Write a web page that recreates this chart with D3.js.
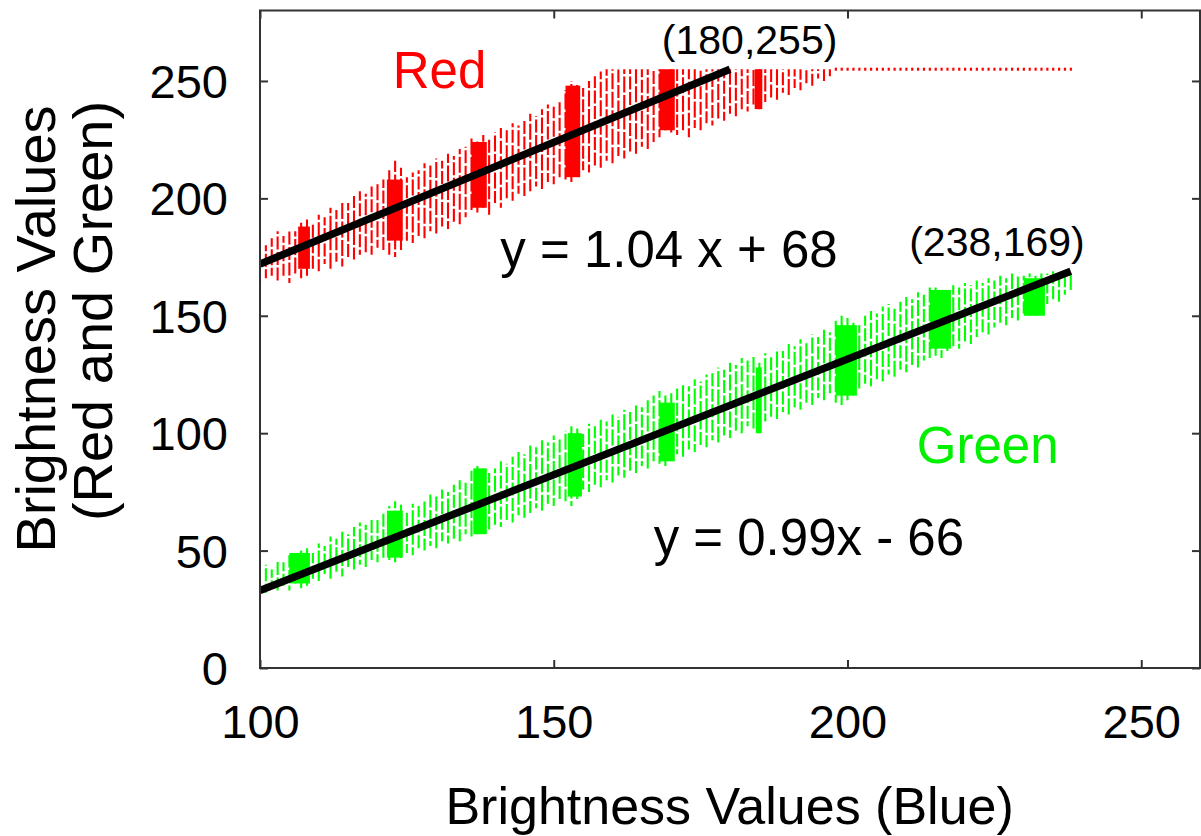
<!DOCTYPE html>
<html><head><meta charset="utf-8">
<script src="https://cdn.jsdelivr.net/npm/d3@7"></script>
<style>
html,body{margin:0;padding:0;background:#fff;}
svg{display:block;}
text{font-family:"Liberation Sans",Arial,Helvetica,sans-serif;}
</style></head>
<body>
<svg id="chart" width="1201" height="836"></svg>
<script>
// ---------------- DATA ----------------
const xTicks = [100, 150, 200, 250];
const yTicks = [0, 50, 100, 150, 200, 250];
const xTitle = "Brightness Values (Blue)";
const yTitleLines = ["Brightness Values", "(Red and Green)"];

// Red band: one column per integer blue value, from redStart
const redStart = 100;
const redLo = [163,166,167,165,167,164,168,166,167,170,169,172,170,173,171,175,174,176,177,176,
  179,178,176,175,178,182,181,184,183,186,185,188,187,190,189,192,195,194,196,193,
  198,196,200,199,202,201,203,205,204,207,206,209,208,207,210,212,211,214,213,216,
  215,218,217,220,219,222,221,224,226,229,228,227,229,226,230,229,232,231,234,233,
  236,235,238,237,240,238,241,243,242,245,244,247,246,249,248,251,250,252];
const redHi = [183,180,183,186,184,187,186,190,191,189,193,192,196,195,199,198,201,203,202,205,
  206,208,212,216,213,209,211,212,215,214,217,216,219,218,221,222,226,225,227,225,
  228,230,229,232,231,234,236,235,238,240,239,242,246,250,249,247,250,252,254,255,
  255,255,255,255,255,255,255,255,255,255,255,255,255,255,255,255,255,255,255,255,
  255,255,255,255,255,255,255,255,255,255,255,255,255,255,255,255,255,255];
// Saturated red dots at 255 beyond the band
const redCapX = [198,199,200,201,202,203,204,205,206,207,208,209,210,211,212,213,214,215,216,217,
  218,219,220,221,222,223,224,225,226,227,228,229,230,231,232,233,234,235,236,237,238];
const redCapY = 255;

// Green band: one column per integer blue value, from greenStart
const greenStart = 100;
const greenLo = [33,32,34,33,35,33,36,34,35,38,37,40,38,41,39,43,42,44,43,46,
  45,47,46,45,47,49,48,51,50,52,51,54,53,55,54,57,56,57,58,59,
  61,60,63,62,65,64,66,68,67,70,69,72,71,69,72,76,75,78,77,80,
  79,82,81,84,83,86,85,88,87,86,89,91,90,93,92,95,94,97,96,99,
  98,101,100,103,102,100,105,107,106,109,108,111,110,113,112,115,114,117,113,112,
  114,116,119,121,120,123,122,125,124,127,126,129,128,131,132,133,132,135,137,136,
  139,138,141,143,142,145,147,146,149,148,151,150,150,153,155,157,156,159,161];
const greenHi = [41,44,42,46,45,48,47,50,51,49,53,52,56,55,58,57,60,62,61,64,
  63,66,69,71,70,67,70,69,72,74,73,76,75,78,80,79,84,86,85,83,
  85,88,87,90,92,91,95,94,97,96,99,98,101,103,102,100,104,103,106,105,
  108,107,110,109,112,111,114,116,118,116,117,119,121,120,123,122,125,126,128,127,
  130,129,132,131,133,130,134,133,136,135,138,137,140,139,142,141,144,143,148,150,
  149,147,146,150,152,151,154,155,153,156,158,157,160,159,162,162,161,160,163,162,
  164,163,165,164,166,165,167,166,168,167,167,168,167,168,168,169,168,169,168];

// Dense clusters (blue from/to, value lo/hi)
const redClusterFrom = [106.5, 121.6, 136.0, 152.0, 168.0, 184.2];
const redClusterTo   = [108.5, 124.3, 138.6, 154.5, 170.6, 185.5];
const redClusterLo   = [170, 182, 196, 209, 229, 238];
const redClusterHi   = [188, 208, 224, 248, 255, 255];

const greenClusterFrom = [105.0, 121.6, 136.3, 152.4, 168.0, 184.4, 198.0, 214.0, 230.0];
const greenClusterTo   = [108.5, 124.3, 138.6, 154.8, 170.6, 185.4, 201.6, 217.6, 233.6];
const greenClusterLo   = [36, 47, 57, 73, 88, 100, 116, 136, 150];
const greenClusterHi   = [49, 67, 85, 100, 113, 128, 146, 161, 166];

// Fitted lines (end points)
const redFitX = [100, 180], redFitY = [172, 255];
const greenFitX = [100, 238], greenFitY = [33, 169];

// Annotations
const annotations = [
  {text: "Red", bx: 122.6, val: 246.8, size: 51, color: "#ff0000"},
  {text: "y = 1.04 x + 68", bx: 140.9, val: 170.6, size: 51, color: "#000"},
  {text: "(180,255)", bx: 168.4, val: 261.3, size: 41, color: "#000"},
  {text: "(238,169)", bx: 210.5, val: 175.3, size: 41, color: "#000"},
  {text: "Green", bx: 211.8, val: 87.5, size: 51, color: "#00f000"},
  {text: "y = 0.99x - 66", bx: 167.0, val: 48.2, size: 51, color: "#000"}
];

// ---------------- CHART ----------------
const svg = d3.select("#chart");
const mLeft = 260, mRight = 1200, mTop = 10.5, mBottom = 668;
const x = d3.scaleLinear().domain([100, 260]).range([mLeft, mRight]);
const y = d3.scaleLinear().domain([0, 280]).range([mBottom, mTop]);

svg.append("defs").append("clipPath").attr("id", "plotClip")
  .append("rect").attr("x", mLeft).attr("y", mTop).attr("width", mRight - mLeft).attr("height", mBottom - mTop);

const plot = svg.append("g").attr("clip-path", "url(#plotClip)");

function drawBand(start, lo, hi, color) {
  const cols = lo.map((l, i) => ({bx: start + i, lo: l, hi: hi[i]}));
  plot.append("g").selectAll("line").data(cols).join("line")
    .attr("x1", d => x(d.bx)).attr("x2", d => x(d.bx))
    .attr("y1", d => y(d.lo)).attr("y2", d => y(d.hi))
    .attr("stroke", color).attr("stroke-width", 2.1)
    .attr("stroke-dasharray", (d, i) => (i % 2 ? "13,2.5" : "16,2.5"))
    .attr("stroke-dashoffset", (d, i) => (i % 3) * 4);
}
function drawClusters(from, to, lo, hi, color) {
  const cl = from.map((f, i) => ({f, t: to[i], lo: lo[i], hi: hi[i]}));
  plot.append("g").selectAll("rect").data(cl).join("rect")
    .attr("x", d => x(d.f)).attr("width", d => x(d.t) - x(d.f))
    .attr("y", d => y(d.hi)).attr("height", d => y(d.lo) - y(d.hi))
    .attr("fill", color);
}

drawBand(redStart, redLo, redHi, "#ff0000");
drawClusters(redClusterFrom, redClusterTo, redClusterLo, redClusterHi, "#ff0000");
plot.append("g").selectAll("rect").data(redCapX).join("rect")
  .attr("x", d => x(d) - 1).attr("y", y(redCapY) - 1.5).attr("width", 2.2).attr("height", 3)
  .attr("fill", "#ff0000");

drawBand(greenStart, greenLo, greenHi, "#00ff00");
drawClusters(greenClusterFrom, greenClusterTo, greenClusterLo, greenClusterHi, "#00ff00");

const line = d3.line().x(d => x(d[0])).y(d => y(d[1]));
plot.append("path").datum(redFitX.map((v, i) => [v, redFitY[i]]))
  .attr("d", line).attr("stroke", "#000").attr("stroke-width", 7.5).attr("fill", "none");
plot.append("path").datum(greenFitX.map((v, i) => [v, greenFitY[i]]))
  .attr("d", line).attr("stroke", "#000").attr("stroke-width", 7.5).attr("fill", "none");

// Frame
svg.append("rect").attr("x", mLeft).attr("y", mTop).attr("width", mRight - mLeft).attr("height", mBottom - mTop)
  .attr("fill", "none").attr("stroke", "#333").attr("stroke-width", 2);

// Axes
const tickFont = 47;
const gx = svg.append("g").attr("transform", `translate(0,${mBottom})`)
  .call(d3.axisBottom(x).tickValues(xTicks).tickSize(-8).tickPadding(37).tickFormat(d3.format("d")));
const gxTop = svg.append("g").attr("transform", `translate(0,${mTop})`)
  .call(d3.axisTop(x).tickValues(xTicks).tickSize(-8).tickFormat(""));
const gy = svg.append("g").attr("transform", `translate(${mLeft},0)`)
  .call(d3.axisLeft(y).tickValues(yTicks).tickSize(-8).tickPadding(32).tickFormat(d3.format("d")));
const gyR = svg.append("g").attr("transform", `translate(${mRight},0)`)
  .call(d3.axisRight(y).tickValues(yTicks).tickSize(-8).tickFormat(""));
[gx, gxTop, gy, gyR].forEach(g => {
  g.select(".domain").remove();
  g.selectAll(".tick line").attr("stroke", "#333").attr("stroke-width", 2);
  g.selectAll(".tick text").attr("font-size", tickFont).attr("fill", "#000")
    .attr("font-family", '"Liberation Sans",Arial,sans-serif');
});
gy.selectAll(".tick text").attr("dy", "0.35em");

// Titles
svg.append("text").attr("x", (x(100) + x(250)) / 2 + 29).attr("y", 824)
  .attr("text-anchor", "middle").attr("font-size", 52).attr("fill", "#000").text(xTitle);
const yTitleX = [55, 112], yTitleC = [329, 311];
yTitleLines.forEach((t, i) => {
  svg.append("text").attr("transform", `translate(${yTitleX[i]},${yTitleC[i]}) rotate(-90)`)
    .attr("text-anchor", "middle").attr("font-size", 56).attr("fill", "#000").text(t);
});

// Annotations
svg.append("g").selectAll("text").data(annotations).join("text")
  .attr("x", d => x(d.bx)).attr("y", d => y(d.val))
  .attr("font-size", d => d.size).attr("fill", d => d.color).text(d => d.text);
</script>
</body></html>
